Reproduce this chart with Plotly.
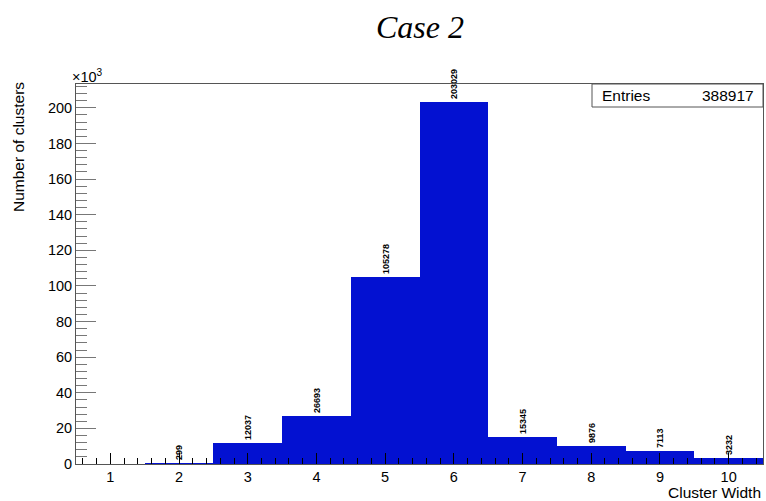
import plotly.graph_objects as go

widths = [1, 2, 3, 4, 5, 6, 7, 8, 9, 10]
counts = [0, 299, 12037, 26693, 105278, 203029, 15345, 9876, 7113, 3232]
entries = 388917
ytick_vals = [0, 20000, 40000, 60000, 80000, 100000, 120000, 140000, 160000, 180000, 200000]
ytick_text = ["0", "20", "40", "60", "80", "100", "120", "140", "160", "180", "200"]
xtick_vals = [1, 2, 3, 4, 5, 6, 7, 8, 9, 10]
xtick_text = ["1", "2", "3", "4", "5", "6", "7", "8", "9", "10"]

labels = [str(c) if c > 0 else "" for c in counts]

W, H = 766, 501
L, R, T, B = 76, 3, 84, 37
PW, PH = W - L - R, H - T - B

fig = go.Figure()
fig.add_trace(go.Bar(
    x=widths, y=counts, width=1,
    marker=dict(color="rgb(3,17,209)", line=dict(width=0)),
    text=labels, textposition="outside", textangle=-90,
    textfont=dict(family="Liberation Sans", size=9, color="black", weight="bold"),
    constraintext="none", cliponaxis=False,
    showlegend=False,
))

tick_font = dict(family="Liberation Sans", size=14.5, color="black")
title_font = dict(family="Liberation Sans", size=15.5, color="black")
fig.update_layout(
    width=W, height=H,
    margin=dict(l=L, r=R, t=T, b=B, pad=0),
    paper_bgcolor="white", plot_bgcolor="white",
    bargap=0,
    font=dict(family="Liberation Sans"),
    xaxis=dict(
        range=[0.5, 10.5], tickmode="array", tickvals=xtick_vals, ticktext=xtick_text,
        ticks="inside", ticklen=11, tickcolor="black", tickwidth=1,
        minor=dict(dtick=0.2, tick0=0.4, ticks="inside", ticklen=6, tickcolor="black"),
        showline=True, linecolor="#555", linewidth=1, mirror=True,
        showgrid=False, zeroline=False, tickfont=tick_font,
    ),
    yaxis=dict(
        range=[0, 213400], tickmode="array", tickvals=ytick_vals, ticktext=ytick_text,
        ticks="inside", ticklen=20, tickcolor="#777", tickwidth=1,
        minor=dict(dtick=4000, tick0=0, ticks="inside", ticklen=11, tickcolor="#777"),
        showline=True, linecolor="#555", linewidth=1, mirror=True,
        showgrid=False, zeroline=False, tickfont=tick_font,
    ),
)

# Title
fig.add_annotation(text="<i>Case 2</i>", xref="paper", yref="paper",
                   x=(420 - L) / PW, y=1 + (T - 27) / PH,
                   xanchor="center", yanchor="middle", showarrow=False,
                   font=dict(family="Liberation Serif", size=32, color="black"))
# Axis titles
fig.add_annotation(text="Number of clusters", xref="paper", yref="paper",
                   x=-(L - 18) / PW, y=1 - (147 - T) / PH,
                   xanchor="center", yanchor="middle", textangle=-90, showarrow=False,
                   font=title_font)
fig.add_annotation(text="Cluster Width", xref="paper", yref="paper",
                   x=1, y=-(492 - (H - B)) / PH,
                   xanchor="right", yanchor="middle", showarrow=False,
                   font=title_font)
fig.add_annotation(text="×10<sup>3</sup>", xref="paper", yref="paper",
                   x=-(L - 70) / PW, y=1 + (T - 76) / PH,
                   xanchor="left", yanchor="middle", showarrow=False,
                   font=tick_font)
# Stats box
bx0 = (592 - L) / PW
by0 = 1 - (107 - T) / PH
fig.add_shape(type="rect", xref="paper", yref="paper", x0=bx0, x1=1, y0=by0, y1=1,
              line=dict(color="#555", width=1), fillcolor="white", layer="above")
fig.add_annotation(text="Entries", xref="paper", yref="paper",
                   x=(600 - L) / PW, y=(by0 + 1) / 2,
                   xanchor="left", yanchor="middle", showarrow=False, font=title_font)
fig.add_annotation(text=str(entries), xref="paper", yref="paper",
                   x=(756 - L) / PW, y=(by0 + 1) / 2,
                   xanchor="right", yanchor="middle", showarrow=False, font=title_font)

fig.write_html("out.html")
